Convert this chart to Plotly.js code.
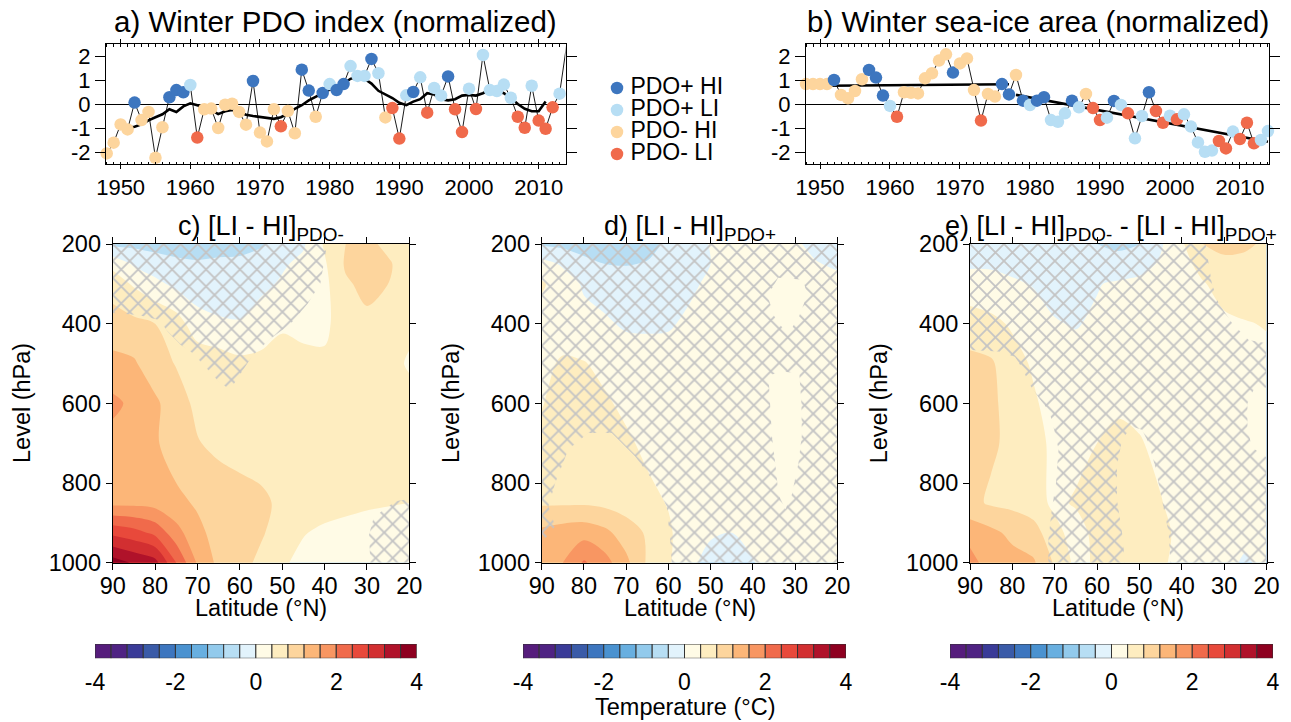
<!DOCTYPE html>
<html><head><meta charset="utf-8">
<script src="https://cdn.plot.ly/plotly-3.0.1.min.js"></script>
<style>html,body{margin:0;padding:0;background:#fff}#chart{width:1291px;height:722px}</style>
</head><body><div id="chart"></div>
<script>
// ---------------- DATA ----------------
const years = [1948,1949,1950,1951,1952,1953,1954,1955,1956,1957,1958,1959,1960,1961,1962,1963,1964,1965,1966,1967,
1968,1969,1970,1971,1972,1973,1974,1975,1976,1977,1978,1979,1980,1981,1982,1983,1984,1985,1986,1987,
1988,1989,1990,1991,1992,1993,1994,1995,1996,1997,1998,1999,2000,2001,2002,2003,2004,2005,2006,2007,
2008,2009,2010,2011,2012,2013,2014];
// category per year: pH = PDO+ HI, pL = PDO+ LI, nH = PDO- HI, nL = PDO- LI
const category = ['nH','nH','nH','nH','pH','nH','nH','nH','nH','pH','pH','pH','pL','nL','nH','nH','nH','nH','nH','nH',
'nH','pH','nH','nH','nH','nL','nH','nH','pH','pH','nH','pH','pL','pH','pH','pL','pL','pL','pH','pL',
'nH','nL','nL','pL','pH','pL','nL','pL','pL','pH','nL','nL','pL','nL','pL','pL','pL','pL','pL','nL',
'nL','pL','nL','nL','nL','pL','pL'];
const pdoIndex = [-2.06,-1.61,-0.85,-1.06,0.06,-0.67,-0.33,-2.24,-0.97,0.28,0.58,0.49,0.79,-1.40,-0.22,-0.19,-1.00,-0.03,0.01,-0.33,
-0.86,0.96,-1.19,-1.56,-0.22,-0.93,-0.29,-1.22,1.43,0.56,-0.53,0.46,0.83,0.58,0.83,1.58,1.17,1.17,1.88,1.28,
-0.56,-0.17,-1.44,0.36,0.50,1.11,-0.36,0.67,0.35,1.15,-0.22,-1.17,0.64,-0.21,2.04,0.58,0.54,0.81,0.26,-0.53,
-0.99,0.76,-0.69,-1.03,-0.14,0.43,2.44];
const seaIce = [0.83,0.83,0.83,0.83,1.00,0.38,0.24,0.54,1.03,1.42,1.10,0.35,-0.08,-0.53,0.49,0.47,0.44,1.07,1.28,1.81,
2.07,1.31,1.69,1.90,0.58,-0.69,0.42,0.31,0.83,0.40,1.21,0.14,-0.04,0.14,0.28,-0.67,-0.74,-0.39,0.14,-0.14,
0.42,-0.17,-0.67,-0.57,0.13,-0.04,-0.39,-1.43,-0.50,0.49,-0.29,-0.78,-0.49,-0.64,-0.43,-0.94,-1.60,-1.99,-1.94,-1.54,
-1.85,-1.15,-1.46,-0.78,-1.64,-1.50,-1.13];
const pdoSmoothYears = [1951,1952,1953,1954,1955,1956,1957,1958,1959,1960,1961,1962,1963,1964,1965,1966,1967,1968,1969,1970,
1971,1972,1973,1974,1975,1976,1977,1978,1979,1980,1981,1982,1983,1984,1985,1986,1987,1988,1989,1990,
1991,1992,1993,1994,1995,1996,1997,1998,1999,2000,2001,2002,2003,2004,2005,2006,2007,2008,2009,2010,2011];
const pdoSmooth = [-1.0,-0.95,-0.85,-0.68,-0.55,-0.43,-0.22,-0.33,-0.1,0.03,-0.05,-0.2,-0.25,-0.42,-0.3,-0.25,-0.33,-0.45,-0.5,-0.55,
-0.6,-0.62,-0.55,-0.4,-0.2,-0.05,0.15,0.3,0.45,0.6,0.7,0.85,1.05,1.15,1.05,0.85,0.55,0.4,0.25,0.05,
-0.05,0.1,0.2,0.45,0.4,0.2,0.15,0.2,0.35,0.38,0.35,0.45,0.6,0.55,0.45,0.25,0.0,-0.2,-0.3,-0.3,0.1];
const iceTrendYears = [1951,1977,null,1978,2014];
const iceTrend = [0.76,0.82,null,0.38,-1.57];

const legendCodes = ['pH','pL','nH','nL'];
const legendLabels = ['PDO+ HI','PDO+ LI','PDO- HI','PDO- LI'];
const categoryColors = {pH:'#3d76bf', pL:'#b7def4', nH:'#fdd59d', nL:'#f06a4b'};

const lats = [90,85,80,75,70,65,60,55,50,45,40,35,30,25,20];
const levels = [1000,925,850,700,600,500,400,300,250,200];
// panel c: [LI-HI]PDO-
const tempC = [
[3.8,3.55,3.35,2.4,1.55,1.1,0.95,0.7,0.45,0.3,0.2,0.15,0.15,0.15,0.2],
[2.7,2.55,2.3,1.75,1.3,1.05,0.95,0.85,0.6,0.42,0.33,0.28,0.25,0.25,0.3],
[1.5,1.5,1.45,1.3,1.15,1.0,0.9,0.85,0.75,0.6,0.55,0.5,0.45,0.42,0.4],
[1.45,1.45,1.25,1.0,0.82,0.72,0.7,0.68,0.65,0.62,0.6,0.6,0.58,0.55,0.55],
[1.7,1.5,1.28,0.95,0.72,0.66,0.64,0.63,0.62,0.6,0.6,0.62,0.62,0.6,0.55],
[1.3,1.25,0.95,0.78,0.7,0.62,0.5,0.5,0.55,0.5,0.48,0.6,0.62,0.55,0.35],
[1.0,0.9,0.8,0.6,0.15,0.05,0.02,0.2,0.35,0.3,0.3,0.65,0.72,0.62,0.5],
[0.6,0.35,0.1,-0.1,-0.2,-0.2,-0.15,-0.1,0.05,0.2,0.3,0.75,0.9,0.8,0.55],
[0.3,-0.05,-0.2,-0.3,-0.35,-0.3,-0.3,-0.2,-0.05,0.1,0.35,0.85,1.0,0.85,0.6],
[-0.5,-0.5,-0.55,-0.6,-0.6,-0.6,-0.55,-0.45,-0.3,-0.05,0.45,0.8,0.9,0.7,0.6]];
// panel d: [LI-HI]PDO+
const tempD = [
[1.45,1.6,2.05,1.75,1.3,0.75,0.45,0.1,-0.15,-0.15,-0.02,0.15,0.15,0.15,0.15],
[1.3,1.4,1.45,1.3,1.0,0.75,0.45,0.2,0.05,0.0,0.1,0.15,0.15,0.15,0.15],
[0.75,0.75,0.75,0.7,0.62,0.5,0.38,0.25,0.15,0.1,0.1,0.12,0.12,0.12,0.12],
[0.5,0.6,0.6,0.55,0.46,0.32,0.2,0.15,0.12,0.1,0.1,0.12,0.12,0.12,0.12],
[0.38,0.55,0.55,0.45,0.32,0.22,0.15,0.12,0.12,0.12,0.12,0.12,0.12,0.12,0.12],
[0.3,0.45,0.42,0.3,0.2,0.15,0.12,0.12,0.12,0.12,0.12,0.12,0.12,0.12,0.12],
[0.25,0.2,0.12,0.05,-0.05,-0.05,-0.03,0.05,0.1,0.12,0.12,0.12,0.12,0.12,0.12],
[0.45,0.2,-0.05,-0.15,-0.2,-0.18,-0.12,-0.05,0.05,0.1,0.12,0.12,0.12,0.12,0.1],
[0.15,-0.05,-0.3,-0.4,-0.42,-0.38,-0.25,-0.12,0.0,0.08,0.12,0.12,0.1,0.02,-0.05],
[-0.45,-0.5,-0.55,-0.6,-0.6,-0.5,-0.35,-0.15,0.02,0.08,0.1,0.1,0.05,-0.1,-0.2]];
// panel e: difference
const tempE = [
[1.75,1.4,1.35,1.25,0.75,0.3,0.45,0.55,0.55,0.45,0.3,0.15,0.1,-0.05,0.1],
[1.45,1.3,1.1,0.95,0.55,0.2,0.55,0.6,0.6,0.5,0.3,0.2,0.15,0.1,0.15],
[0.9,0.75,0.7,0.6,0.3,0.45,0.5,0.6,0.55,0.42,0.25,0.2,0.18,0.15,0.15],
[1.0,0.85,0.72,0.55,0.3,0.25,0.4,0.48,0.43,0.3,0.2,0.2,0.2,0.2,0.2],
[0.95,0.85,0.7,0.45,0.25,0.2,0.25,0.35,0.3,0.25,0.2,0.2,0.2,0.22,0.22],
[0.9,0.85,0.55,0.35,0.2,0.12,0.1,0.15,0.15,0.15,0.2,0.25,0.28,0.3,0.32],
[0.6,0.5,0.35,0.15,0.02,-0.02,0.05,0.1,0.15,0.2,0.25,0.3,0.35,0.38,0.42],
[0.15,0.12,0.05,-0.02,-0.1,-0.12,-0.02,0.05,0.1,0.15,0.25,0.38,0.5,0.6,0.65],
[-0.05,-0.05,-0.1,-0.12,-0.15,-0.2,-0.25,-0.25,-0.15,0.05,0.3,0.5,0.7,0.72,0.72],
[-0.15,-0.15,-0.2,-0.22,-0.25,-0.3,-0.4,-0.48,-0.42,-0.05,0.35,0.8,0.92,0.85,0.75]];

// non-significant (hatched) regions: latitude / level outlines, null separates polygons
const hatchCLat = [90,39.4,41,44,48,53,57,60,62.3,65,68,71,74,77,79,84,90,null,29.2,29.5,28.5,26,23,20,20];
const hatchCLev = [200,200,300,350,400,440,480,530,566,545,510,475,453,420,391,378,373,null,1000,930,890,865,845,840,1000];
const hatchDLat = [90,20,20,59.2,59.6,60.4,63.2,67.9,73.4,79,83.7,86.8,88.4,86.8,90,null,
  28,34,36.5,35,33,31,29,27.2,null,
  29,33,36.3,36,35.5,34.7,33.9,32.3,30.8,29.2,28.4,28.5];
const hatchDLev = [200,200,1000,1000,942,858,800,733,674.5,674.5,716,800,858,908.5,950,null,
  290,285,330,380,410,415,380,330,null,
  525,520,530,600,680,750,830,866,830,750,680,600];
const hatchELat = [90,34.4,32.9,31.3,28.1,24.2,20,20,23,24.5,24.5,23.5,20,20,42.7,43.1,44.7,46.3,47.8,49.4,51.8,54.1,55.3,55.3,54.1,53.4,71.5,71.5,70.7,69.7,69.1,69.9,71.3,73.5,76.2,77.4,79.4,83.3,90];
const hatchELev = [200,200,299,349,399,441,449,560,565,600,660,710,735,1000,1000,925,842,758,700,666,658,691,758,842,925,1000,1000,942,867,800,716,675,620,590,549,516,483,470,466];

const cbLevels = [-4,-3.6,-3.2,-2.8,-2.4,-2,-1.6,-1.2,-0.8,-0.4,0,0.4,0.8,1.2,1.6,2,2.4,2.8,3.2,3.6,4];
const cbColors = ['#561d7c','#4f2383','#3a3b98','#3a5ba8','#3d76bf','#4a92d0','#68afe0','#92caec','#b7def4','#e2f3fc',
'#fffbe6','#feedc0','#fdd59d','#fcb678','#f89662','#f06a4b','#e8493b','#d22f31','#b0122a','#8e0020'];
const cbTicks = [-4,-2,0,2,4];
const cbTickText = ['-4','-2','0','2','4'];
const yTsTicks = [-2,-1,0,1,2];
const yTsText = ['-2','-1','0','1','2'];
const latTicks = [90,80,70,60,50,40,30,20];
const levTicks = [200,400,600,800,1000];

// ---------------- LAYOUT HELPERS ----------------
const W = 1291, H = 722;
const fx = p => p / W, fy = p => 1 - p / H;
const FONT = 'Liberation Sans, Arial, Helvetica, sans-serif';

const colorscale = [];
cbColors.forEach((c, i) => { colorscale.push([i / cbColors.length, c]); colorscale.push([(i + 1) / cbColors.length, c]); });
const cbCenters = cbColors.map((c, i) => (cbLevels[i] + cbLevels[i + 1]) / 2);

const axBase = {showline:true, linecolor:'#000', linewidth:1, mirror:'ticks', ticks:'outside', tickcolor:'#000',
  showgrid:false, zeroline:false, fixedrange:true};

const traces = [];
const layout = {width:W, height:H, margin:{l:0,r:0,t:0,b:0}, paper_bgcolor:'#fff', plot_bgcolor:'#fff',
  font:{family:FONT, color:'#000'}, showlegend:false, annotations:[]};

// ---- time series panels ----
function tsPanel(n, x0, x1, xr, vals, extra) {
  const xa = 'xaxis' + (n === 1 ? '' : n), ya = 'yaxis' + (n === 1 ? '' : n);
  const xs = 'x' + (n === 1 ? '' : n), ys = 'y' + (n === 1 ? '' : n);
  layout[xa] = Object.assign({}, axBase, {domain:[fx(x0), fx(x1)], range:xr, tickmode:'linear', tick0:1950, dtick:10,
    ticklen:4, tickfont:{size:22}, anchor:ys,
    minor:{tick0:1948, dtick:1, ticks:'inside', ticklen:2.5, tickcolor:'#000', showgrid:false}});
  layout[ya] = Object.assign({}, axBase, {domain:[fy(164), fy(44)], range:[-2.5,2.5], tickvals:yTsTicks, ticktext:yTsText,
    ticklen:10, tickfont:{size:22}, zeroline:true, zerolinecolor:'#000', zerolinewidth:1, anchor:xs});
  traces.push({type:'scatter', mode:'lines', x:years, y:vals, xaxis:xs, yaxis:ys, line:{color:'#000', width:0.9}, hoverinfo:'skip'});
  traces.push({type:'scatter', mode:'lines', x:extra.x, y:extra.y, xaxis:xs, yaxis:ys, line:{color:'#000', width:2.6}, hoverinfo:'skip'});
  traces.push({type:'scatter', mode:'markers', x:years, y:vals, xaxis:xs, yaxis:ys, cliponaxis:false,
    marker:{size:12.5, color:category.map(c => categoryColors[c]), line:{width:0}}, hoverinfo:'x+y'});
}
tsPanel(1, 106, 565.5, [1947.9, 2013.85], pdoIndex, {x:pdoSmoothYears, y:pdoSmooth});
tsPanel(2, 806, 1269, [1948, 2014.15], seaIce, {x:iceTrendYears, y:iceTrend});

// legend (own invisible axes)
layout.xaxis9 = {domain:[fx(600), fx(780)], range:[-17,163], visible:false, fixedrange:true, anchor:'y9'};
layout.yaxis9 = {domain:[fy(165), fy(77)], range:[3.5,-0.5], visible:false, fixedrange:true, anchor:'x9'};
traces.push({type:'scatter', mode:'markers+text', x:legendLabels.map(() => 0), y:legendLabels.map((l, i) => i),
  text:legendLabels.map(l => '\u2009' + l), textposition:'middle right', textfont:{size:23, family:FONT, color:'#000'},
  marker:{size:12.5, color:legendCodes.map(c => categoryColors[c])}, xaxis:'x9', yaxis:'y9', cliponaxis:false, hoverinfo:'skip'});

// ---- cross-section panels ----
const panels = [
  {n:3, x0:112.7, x1:409.3, z:tempC, hl:hatchCLat, hv:hatchCLev, cb:[95,416.7], cbn:6,
   title:'c) [LI - HI]<sub>PDO-</sub>', tx:261},
  {n:4, x0:541.7, x1:837.3, z:tempD, hl:hatchDLat, hv:hatchDLev, cb:[523,846], cbn:7,
   title:'d) [LI - HI]<sub>PDO+</sub>', tx:689.5},
  {n:5, x0:970, x1:1266.5, z:tempE, hl:hatchELat, hv:hatchELev, cb:[950,1273], cbn:8,
   title:'e) [LI - HI]<sub>PDO-</sub> - [LI - HI]<sub>PDO+</sub>', tx:1110.5}
];
panels.forEach(p => {
  const xs = 'x' + p.n, ys = 'y' + p.n;
  layout['xaxis' + p.n] = Object.assign({}, axBase, {domain:[fx(p.x0), fx(p.x1)], range:[90,20], tickvals:latTicks,
    ticklen:6, tickfont:{size:23.5}, ticklabelstandoff:-4, anchor:ys});
  layout['yaxis' + p.n] = Object.assign({}, axBase, {domain:[fy(562.7), fy(244)], range:[1000,200], tickvals:levTicks,
    ticklen:6, tickfont:{size:23.5}, anchor:xs});
  traces.push({type:'contour', x:lats, y:levels, z:p.z, xaxis:xs, yaxis:ys, colorscale:colorscale, zmin:-4, zmax:4,
    autocontour:false, contours:{start:-4, end:4, size:0.4, coloring:'fill', showlines:false},
    line:{width:0, smoothing:0.9}, showscale:false, hoverinfo:'skip'});
  traces.push({type:'scatter', mode:'lines', x:p.hl, y:p.hv, xaxis:xs, yaxis:ys, fill:'toself',
    fillcolor:'rgba(0,0,0,0)', line:{width:0, color:'rgba(0,0,0,0)'},
    fillpattern:{shape:'x', fgcolor:'#c4c4c4', bgcolor:'rgba(0,0,0,0)', size:12, solidity:0.28}, hoverinfo:'skip'});
  // colorbar
  const cx = 'x' + p.cbn, cy = 'y' + p.cbn;
  layout['xaxis' + p.cbn] = {domain:[fx(p.cb[0]), fx(p.cb[1])], range:[-4,4], tickvals:cbTicks, ticktext:cbTickText,
    showline:false, ticks:'', showgrid:false, zeroline:false, tickfont:{size:23}, ticklabelstandoff:8, fixedrange:true, anchor:cy};
  layout['yaxis' + p.cbn] = {domain:[fy(658.3), fy(644)], range:[0,1], visible:false, fixedrange:true, anchor:cx};
  traces.push({type:'bar', x:cbCenters, y:cbCenters.map(() => 1), width:cbCenters.map(() => 0.4), xaxis:cx, yaxis:cy,
    marker:{color:cbColors, line:{color:'#333', width:1}}, hoverinfo:'skip'});
  // texts
  layout.annotations.push({text:p.title, x:fx(p.tx), y:fy(228), xref:'paper', yref:'paper', showarrow:false,
    font:{size:27}, xanchor:'center', yanchor:'middle'});
  layout.annotations.push({text:'Level (hPa)', x:fx(p.x0 - 90.7), y:fy(403), xref:'paper', yref:'paper', showarrow:false,
    font:{size:23.5}, textangle:-90, xanchor:'center', yanchor:'middle'});
  layout.annotations.push({text:'Latitude (°N)', x:fx((p.x0 + p.x1) / 2), y:fy(608), xref:'paper', yref:'paper', showarrow:false,
    font:{size:23.5}, xanchor:'center', yanchor:'middle'});
});
layout.annotations.push({text:'a) Winter PDO index (normalized)', x:fx(335.5), y:fy(21), xref:'paper', yref:'paper',
  showarrow:false, font:{size:29.5}, xanchor:'center', yanchor:'middle'});
layout.annotations.push({text:'b) Winter sea-ice area (normalized)', x:fx(1037.5), y:fy(21), xref:'paper', yref:'paper',
  showarrow:false, font:{size:29.5}, xanchor:'center', yanchor:'middle'});
layout.annotations.push({text:'Temperature (°C)', x:fx(684.5), y:fy(707), xref:'paper', yref:'paper',
  showarrow:false, font:{size:23.5}, xanchor:'center', yanchor:'middle'});

Plotly.newPlot('chart', traces, layout, {displayModeBar:false, staticPlot:true});
</script></body></html>
